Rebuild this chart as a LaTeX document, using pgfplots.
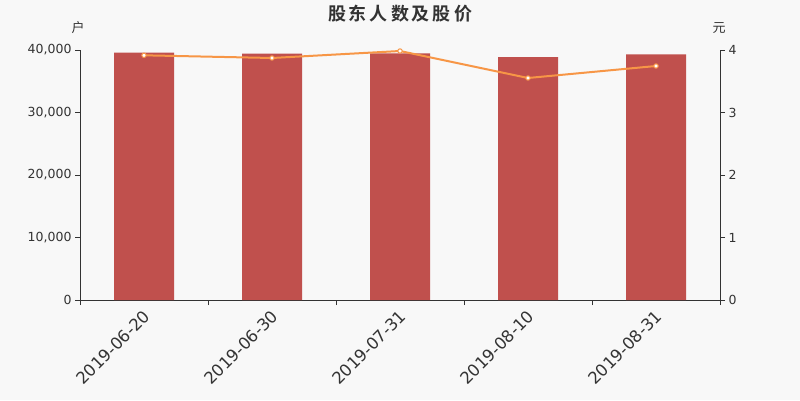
\documentclass[border=0pt]{standalone}
\usepackage{pgfplots}
\pgfplotsset{compat=1.18}
\usepackage{fontspec}
\setmainfont{DejaVu Sans}
\newfontfamily\cjk{Noto Sans CJK SC}
\newfontfamily\cjkbold{Noto Sans CJK SC Bold}

\definecolor{bg}{HTML}{F8F8F8}
\definecolor{barred}{HTML}{C0504D}
\definecolor{lineorange}{HTML}{F79646}
\definecolor{axisgray}{HTML}{333333}

\pgfplotstableread{
x holders price
0 39570 3.915
1 39410 3.872
2 39470 3.984
3 38880 3.552
4 39310 3.744
}\datatable

\begin{document}
\begin{tikzpicture}[x=1pt,y=1pt]
\fill[bg] (0,0) rectangle (800,400);
\useasboundingbox (0,0) rectangle (800,400);

\pgfplotsset{
  common/.style={
    at={(80pt,100pt)}, anchor=south west,
    width=640pt, height=250pt, scale only axis,
    xmin=-0.5, xmax=4.5,
    ymin=0,
    axis line style={axisgray},
    tick style={axisgray, thin},
    tick align=outside,
    major tick length=5pt,
    ticklabel style={text=axisgray, font=\fontsize{12.5}{14}\selectfont},
    /pgf/number format/assume math mode=true,
    clip=false,
  },
}

\begin{axis}[common,
  axis x line*=bottom,
  axis y line*=left,
  ymax=40000,
  ytick={0,10000,20000,30000,40000},
  scaled y ticks=false,
  yticklabel style={/pgf/number format/.cd, fixed, 1000 sep={,}},
  xtick={-0.5,0.5,...,4.5},
  xticklabels={},
  extra x ticks={0,1,2,3,4},
  extra x tick labels={2019-06-20,2019-06-30,2019-07-31,2019-08-10,2019-08-31},
  extra x tick style={major tick length=0pt,
    ticklabel style={rotate=45, anchor=north east, font=\fontsize{16.5}{18}\selectfont, xshift=-4pt, yshift=-2pt}},
]
\addplot[ybar, bar width=60pt, fill=barred, draw=none] table[x=x, y=holders] {\datatable};
\end{axis}

\begin{axis}[common,
  axis x line=none,
  axis y line*=right,
  ymax=4,
  ytick={0,1,2,3,4},
]
\addplot[lineorange, line width=2pt, mark=*, mark size=2.2pt,
  mark options={fill=white, draw=lineorange, line width=1pt}]
  table[x=x, y=price] {\datatable};
\end{axis}

\node[text=axisgray, font=\cjkbold\fontsize{18}{20}\selectfont] at (400,386) {股\,东\,人\,数\,及\,股\,价};
\node[text=axisgray, font=\cjk\fontsize{13}{15}\selectfont] at (78,372) {户};
\node[text=axisgray, font=\cjk\fontsize{13}{15}\selectfont] at (719,372) {元};
\end{tikzpicture}
\end{document}
